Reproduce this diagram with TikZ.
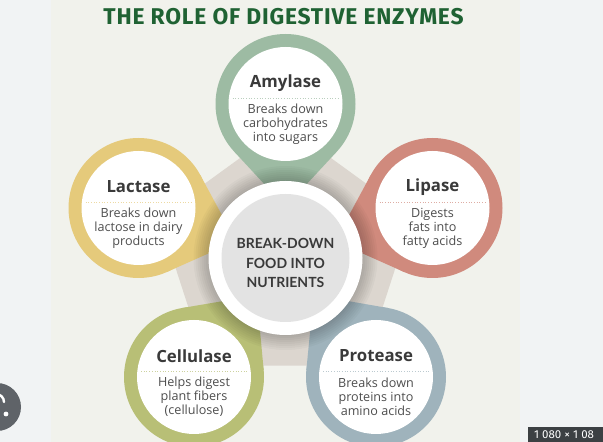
\documentclass[tikz,border=0pt]{standalone}
\usepackage{fontspec}
\setmainfont{Open Sans}
\newfontfamily\titlefont{Fira Sans}[LetterSpace=3.5]
\newfontfamily\centerfont{Lato}
\newfontfamily\badgefont{Fira Sans}
\usetikzlibrary{calc,positioning}

\definecolor{pagebg}{HTML}{F1F3F4}
\definecolor{panelbg}{HTML}{F1F2EC}
\definecolor{titlegreen}{HTML}{1F6233}
\definecolor{penta}{HTML}{DCD6CF}
\definecolor{centergrey}{HTML}{E3E3E3}
\definecolor{textgrey}{HTML}{3A3A3A}
\definecolor{amyl}{HTML}{9DBBA3}
\definecolor{lact}{HTML}{E5CA7B}
\definecolor{lipa}{HTML}{D08A7D}
\definecolor{cell}{HTML}{B8BF76}
\definecolor{prot}{HTML}{9FB3BC}
\definecolor{lensgrey}{HTML}{5F6368}
\definecolor{badgegrey}{HTML}{3C4043}

\begin{document}
\begin{tikzpicture}[x=1pt, y=1pt,
        mwhite/.style = {circle, fill=white, minimum size=114pt, inner sep=0pt},
        mcenter/.style = {circle, fill=white, minimum size=154pt, inner sep=0pt},
        mname/.style = {font=\bfseries\fontsize{16.8}{18}\selectfont, text=textgrey},
        mdesc/.style = {font=\fontsize{12.6}{14}\selectfont, text=textgrey!90, align=center},
        msep/.style = {#1!70, dotted, line width=0.7pt}
        ]
        \useasboundingbox (0,0) rectangle (603,442);
        \clip (0,0) rectangle (603,442);

        % screen and poster
        \fill[pagebg] (0,0) rectangle (603,442);
        \fill[panelbg] (51,0) rectangle (520,442);

        \node[font=\titlefont\bfseries\fontsize{22.8}{24}\selectfont, text=titlegreen] (title) at (283.5,425) {THE ROLE OF DIGESTIVE ENZYMES};

        \coordinate (C) at (285.5,184);

        \fill[penta, rounded corners=6] ($(C)+(90:133)$) -- ($(C)+(162:133)$) -- ($(C)+(234:133)$)
            -- ($(C)+(306:133)$) -- ($(C)+(18:133)$) -- cycle;

        % rings with their tails
        \foreach \n/\px/\py/\col in {Am/285.5/338/amyl, La/138.5/234/lact, Li/432.5/234/lipa, Ce/194/65/cell, Pr/376/65/prot} {
            \coordinate (\n) at (\px,\py);
            \fill[\col] (\n) circle (70);
            \fill[\col] ($(\n)!103pt!(C)$) -- ($(\n)!70pt!47:(C)$) -- (\n) -- ($(\n)!70pt!-47:(C)$) -- cycle;
            \node[mwhite] (\n w) at (\n) {};
            \draw[msep=\col] ($(\n)+(-53,6)$) -- ($(\n)+(53,6)$);
        }

        % soft shadow round the middle
        \foreach \r in {78,80,...,92}
            \fill[black, opacity=0.028] (C) circle (\r);

        \node[mcenter] (Cw) at (C) {};
        \node[circle, fill=centergrey, minimum size=128pt, inner sep=0pt] (Cg) at (C) {};
        \node[font=\centerfont\bfseries\fontsize{14}{19.5}\selectfont, align=center, text=textgrey] (Ct) at (285.5,179) {BREAK-DOWN\\FOOD INTO\\NUTRIENTS};

        \node[mname] (Amn) at ($(Am)+(0,21)$) {Amylase};
        \node[mdesc] (Amd) at ($(Am)+(0,-20)$) {Breaks down\\carbohydrates\\into sugars};

        \node[mname] (Lan) at ($(La)+(0,21)$) {Lactase};
        \node[mdesc] (Lad) at ($(La)+(0,-20)$) {Breaks down\\lactose in dairy\\products};

        \node[mname] (Lin) at ($(Li)+(0,21)$) {Lipase};
        \node[mdesc] (Lid) at ($(Li)+(0,-20)$) {Digests\\fats into\\fatty acids};

        \node[mname] (Cen) at ($(Ce)+(0,21)$) {Cellulase};
        \node[mdesc] (Ced) at ($(Ce)+(0,-20)$) {Helps digest\\plant fibers\\(cellulose)};

        \node[mname] (Prn) at ($(Pr)+(0,21)$) {Protease};
        \node[mdesc] (Prd) at ($(Pr)+(0,-20)$) {Breaks down\\proteins into\\amino acids};

        % viewer overlays
        \fill[lensgrey] (-3,35) circle (24);
        \draw[white, line width=2.4pt, line cap=round] (-4,48) arc[start angle=90, end angle=0, radius=8];
        \fill[white] (6,28) circle (2.4);

        \fill[badgegrey] (528,0) rectangle (610,15);
        \node[anchor=base west, inner sep=0pt, text=white, font=\badgefont\fontsize{11.5}{13}\selectfont] (badge) at (534,3) {1 080 × 1 08};
    \end{tikzpicture}
\end{document}
